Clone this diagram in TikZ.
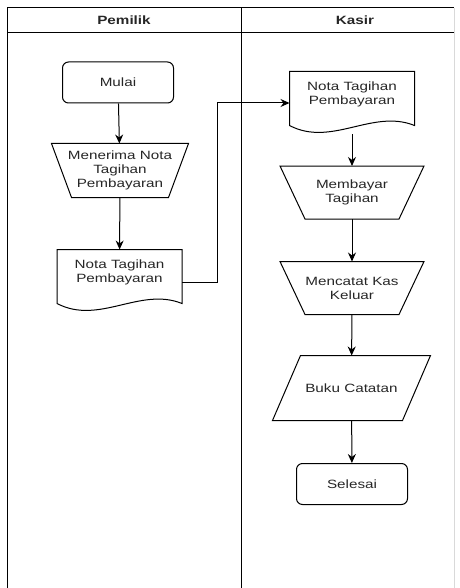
\documentclass[tikz,border=0pt]{standalone}
\usepackage{fontspec}
\setmainfont{Liberation Sans}[FakeStretch=1.27]
\usetikzlibrary{arrows.meta}

\begin{document}
\begin{tikzpicture}
[
x=1pt, y=-1pt,
every node/.style={font=\fontsize{12}{14}\selectfont, align=center, inner sep=0pt, text=black!85},
terminal/.style={draw, rounded corners=6pt, minimum width=111pt, minimum height=41pt},
manual/.style={minimum width=143pt, minimum height=52pt},
data/.style={minimum width=157pt, minimum height=64pt},
doc/.style={minimum width=124pt, minimum height=44pt},
flow/.style={-{Stealth[length=9pt, width=8pt]}},
lane/.style={font=\bfseries\fontsize{12}{14}\selectfont},
line width=1pt
]

\useasboundingbox (0,0) rectangle (459,588);

% swimlanes
\draw (7,8) -- (454,8);
\draw (7,32.5) -- (454,32.5);
\draw (7,8) -- (7,588);
\draw (241,8) -- (241,588);
\draw[black!15] (454,8) -- (454,588);
\node[lane] (pemilik) at (124,20) {Pemilik};
\node[lane] (kasir) at (355,20) {Kasir};

% Pemilik
\node[terminal] (mulai) at (118,82.5) {Mulai};
\node[manual, minimum width=136pt, minimum height=53pt] (terima) at (120,170.5) {Menerima Nota\\Tagihan\\Pembayaran};
\draw (terima.north west) -- (terima.north east) -- ([xshift=-20pt]terima.south east)
	-- ([xshift=20pt]terima.south west) -- cycle;
\node[doc] (nota1) at (119.5,272) {Nota Tagihan\\Pembayaran};
\draw (nota1.north west) -- (nota1.north east) -- ([yshift=-9pt]nota1.south east)
	.. controls +(-42,-17) and +(42,22) .. ([yshift=-9pt]nota1.south west) -- cycle;

% Kasir
\node[doc] (nota2) at (352,94) {Nota Tagihan\\Pembayaran};
\draw (nota2.north west) -- (nota2.north east) -- ([yshift=-9pt]nota2.south east)
	.. controls +(-42,-17) and +(42,22) .. ([yshift=-9pt]nota2.south west) -- cycle;
\node[manual] (bayar) at (352,192.5) {Membayar\\Tagihan};
\draw (bayar.north west) -- (bayar.north east) -- ([xshift=-25pt]bayar.south east)
	-- ([xshift=25pt]bayar.south west) -- cycle;
\node[manual] (catat) at (352,288) {Mencatat Kas\\Keluar};
\draw (catat.north west) -- (catat.north east) -- ([xshift=-25pt]catat.south east)
	-- ([xshift=25pt]catat.south west) -- cycle;
\node[data] (buku) at (351.5,388) {Buku Catatan};
\draw ([xshift=28pt]buku.north west) -- (buku.north east) -- ([xshift=-28pt]buku.south east)
	-- (buku.south west) -- cycle;
\node[terminal] (selesai) at (352,484) {Selesai};

\draw[flow] (mulai) -- (terima);
\draw[flow] (terima) -- (nota1);
\draw[flow] ([yshift=-10pt]nota1.east) -- ++(35,0) |- ([yshift=-9pt]nota2.west);
\draw[flow] ([yshift=-18pt]nota2.south) -- (bayar);
\draw[flow] (bayar) -- (catat);
\draw[flow] (catat) -- (buku);
\draw[flow] (buku) -- (selesai);
\end{tikzpicture}
\end{document}
